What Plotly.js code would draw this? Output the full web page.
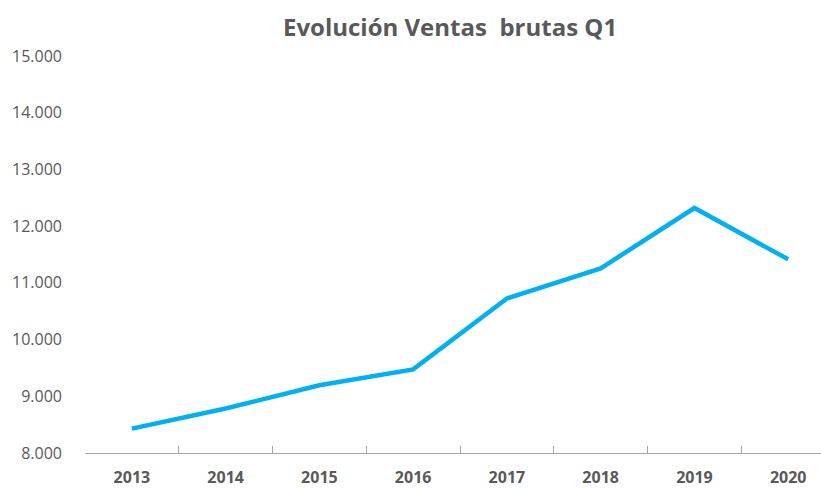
<!DOCTYPE html>
<html>
<head>
<meta charset="utf-8">
<script src="https://cdn.plot.ly/plotly-3.0.1.min.js"></script>
<style>html,body{margin:0;padding:0;background:#fff;}#chart{width:821px;height:488px;}</style>
</head>
<body>
<div id="chart"></div>
<script>
const years = ["2013", "2014", "2015", "2016", "2017", "2018", "2019", "2020"];
const ventas = [8430, 8785, 9195, 9475, 10725, 11255, 12320, 11415];
const yTicks = [8000, 9000, 10000, 11000, 12000, 13000, 14000, 15000];
const titleText = "Evolución Ventas&nbsp; brutas Q1";

const trace = {
  x: years,
  y: ventas,
  type: "scatter",
  mode: "lines",
  line: {color: "#00B0F0", width: 4.5},
  hoverinfo: "x+y"
};

const layout = {
  width: 821,
  height: 488,
  margin: {l: 85, r: 0, t: 56, b: 35, pad: 0},
  paper_bgcolor: "#ffffff",
  plot_bgcolor: "#ffffff",
  separators: ",.",
  showlegend: false,
  title: {
    text: "<b>" + titleText + "</b>",
    x: 0.496, xref: "paper", xanchor: "center",
    y: 25, yref: "container", yanchor: "middle",
    font: {family: "Open Sans, sans-serif", size: 24, color: "#595959"}
  },
  xaxis: {
    type: "category",
    range: [-0.5, 7.35],
    showgrid: false,
    zeroline: false,
    showline: true,
    linecolor: "#A6A6A6",
    linewidth: 1,
    ticks: "inside",
    tickson: "boundaries",
    ticklen: 7,
    tickcolor: "#A6A6A6",
    tickwidth: 1,
    ticklabelstandoff: 10,
    tickfont: {family: "Open Sans, sans-serif", size: 16, color: "#595959", weight: "bold"},
    fixedrange: true
  },
  yaxis: {
    range: [8000, 15000],
    tickvals: yTicks,
    tickformat: ",d",
    showgrid: false,
    zeroline: false,
    showline: false,
    ticks: "",
    ticklabelstandoff: 22,
    tickfont: {family: "Open Sans, sans-serif", size: 16, color: "#595959"},
    fixedrange: true
  }
};

Plotly.newPlot("chart", [trace], layout, {displayModeBar: false, staticPlot: true});
</script>
</body>
</html>
